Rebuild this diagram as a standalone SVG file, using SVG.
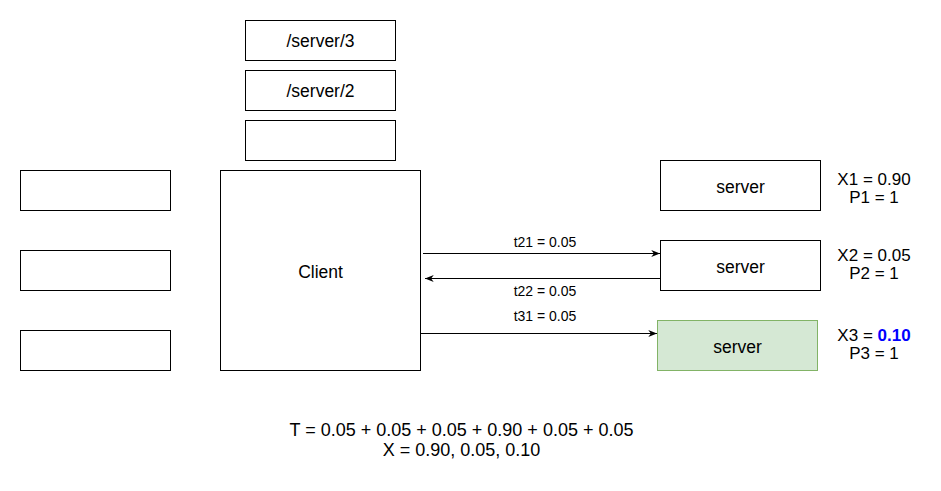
<svg xmlns="http://www.w3.org/2000/svg" width="941" height="491" viewBox="0 0 941 491">
  <style>
    .box { fill: #ffffff; stroke: #000000; stroke-width: 1; }
    .green { fill: #d5e8d4; stroke: #82b366; stroke-width: 1; }
    .lbl { font-family: "Liberation Sans", Arial, Helvetica, sans-serif; font-size: 17.5px; fill: #000000; text-anchor: middle; }
    .stat { font-family: "Liberation Sans", Arial, Helvetica, sans-serif; font-size: 17px; fill: #000000; text-anchor: middle; }
    .sum { font-family: "Liberation Sans", Arial, Helvetica, sans-serif; font-size: 18px; fill: #000000; text-anchor: middle; }
    .small { font-family: "Liberation Sans", Arial, Helvetica, sans-serif; font-size: 14px; fill: #000000; text-anchor: middle; }
    .edge { fill: none; stroke: #000000; stroke-width: 1; }
    .hi { fill: #0000ff; font-weight: bold; }
  </style>
  <defs>
    <marker id="arrow" viewBox="0 0 10 8" refX="10" refY="4" markerWidth="9" markerHeight="7" markerUnits="userSpaceOnUse" orient="auto">
      <path d="M10,4 L0,0 L3,4 L0,8 Z" fill="#000000"/>
    </marker>
  </defs>
  <rect width="941" height="491" fill="#ffffff"/>

  <!-- path stack above the client -->
  <g id="path-3">
    <rect class="box" x="245.5" y="20.5" width="150" height="40"/>
    <text class="lbl" x="320.5" y="47">/server/3</text>
  </g>
  <g id="path-2">
    <rect class="box" x="245.5" y="70.5" width="150" height="40"/>
    <text class="lbl" x="320.5" y="97">/server/2</text>
  </g>
  <g id="path-1">
    <rect class="box" x="245.5" y="120.5" width="150" height="40"/>
  </g>

  <!-- left column -->
  <g id="left-1"><rect class="box" x="20.5" y="170.5" width="150" height="40"/></g>
  <g id="left-2"><rect class="box" x="20.5" y="250.5" width="150" height="40"/></g>
  <g id="left-3"><rect class="box" x="20.5" y="330.5" width="150" height="40"/></g>

  <!-- client -->
  <g id="client">
    <rect class="box" x="220.5" y="170.5" width="200" height="200"/>
    <text class="lbl" x="320.5" y="278">Client</text>
  </g>

  <!-- servers -->
  <g id="server-1">
    <rect class="box" x="660.5" y="160.5" width="160" height="50"/>
    <text class="lbl" x="740.5" y="193">server</text>
  </g>
  <g id="server-2">
    <rect class="box" x="660.5" y="240.5" width="160" height="50"/>
    <text class="lbl" x="740.5" y="273">server</text>
  </g>
  <g id="server-3">
    <rect class="green" x="657.5" y="320.5" width="160" height="50"/>
    <text class="lbl" x="737.5" y="353">server</text>
  </g>

  <!-- server stats -->
  <g id="stats-1">
    <text class="stat" x="874" y="185">X1 = 0.90</text>
    <text class="stat" x="874" y="203">P1 = 1</text>
  </g>
  <g id="stats-2">
    <text class="stat" x="874" y="261">X2 = 0.05</text>
    <text class="stat" x="874" y="279">P2 = 1</text>
  </g>
  <g id="stats-3">
    <text class="stat" x="874" y="341">X3 = <tspan class="hi">0.10</tspan></text>
    <text class="stat" x="874" y="359">P3 = 1</text>
  </g>

  <!-- connectors -->
  <g id="edges">
    <line class="edge" x1="423" y1="253.5" x2="660" y2="253.5" marker-end="url(#arrow)"/>
    <line class="edge" x1="660" y1="278.5" x2="425" y2="278.5" marker-end="url(#arrow)"/>
    <line class="edge" x1="420.5" y1="333.5" x2="657" y2="333.5" marker-end="url(#arrow)"/>
    <text class="small" x="545" y="246.5">t21 = 0.05</text>
    <text class="small" x="545" y="296">t22 = 0.05</text>
    <text class="small" x="545" y="321">t31 = 0.05</text>
  </g>

  <!-- totals -->
  <g id="summary">
    <text class="sum" x="461.5" y="436">T = 0.05 + 0.05 + 0.05 + 0.90 + 0.05 + 0.05</text>
    <text class="sum" x="461.5" y="456">X = 0.90, 0.05, 0.10</text>
  </g>
</svg>
